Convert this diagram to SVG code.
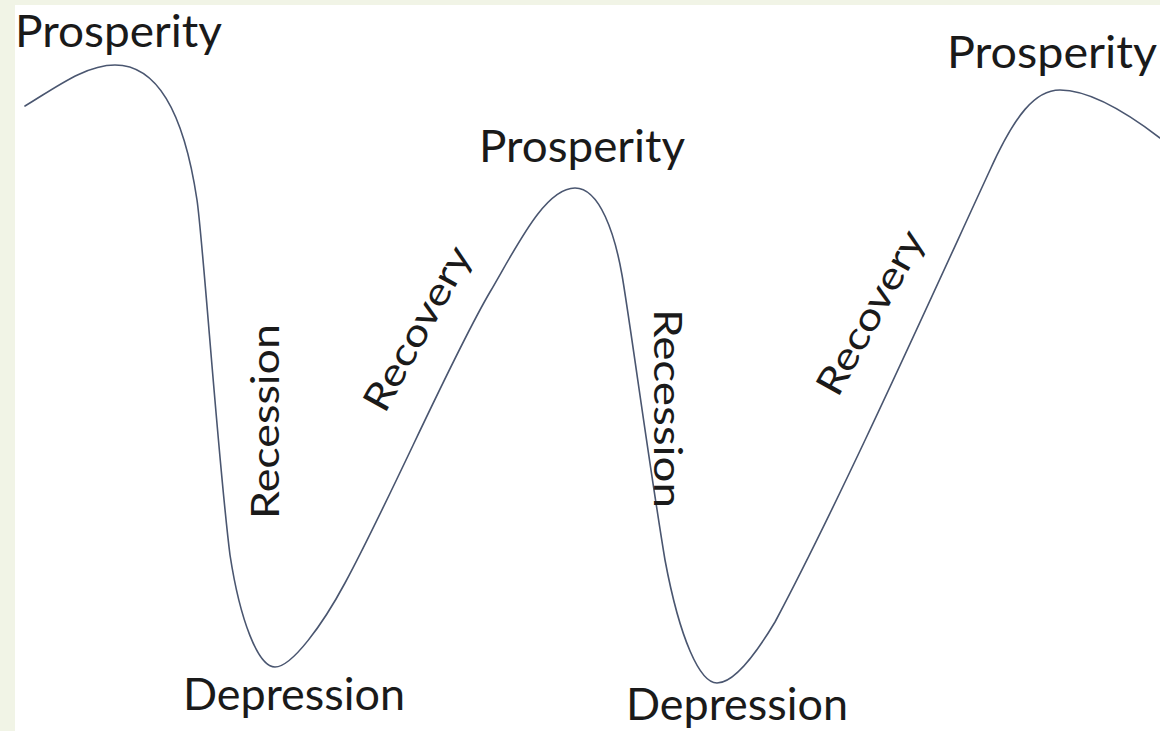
<svg xmlns="http://www.w3.org/2000/svg" width="1160" height="731" viewBox="0 0 1160 731">
  <style>
    .lbl { font-family: "Lato", "Open Sans", sans-serif; fill: #1a1a1a; }
    .h { font-size: 44px; }
    .v { font-size: 38px; }
    .curve { fill: none; stroke: #4a5670; stroke-width: 1.6; stroke-linecap: round; stroke-linejoin: round; }
  </style>
  <rect x="0" y="0" width="1160" height="731" fill="#f1f4e6"/>
  <rect x="15" y="5" width="1145" height="726" fill="#ffffff"/>

  <g id="connectors">
    <path class="curve" d="M 25,106 C 55,88 85,65 115,65 C 160,65 185,120 197,200 C 203,240 218,460 230,555 C 240,620 258,667 275,667 C 292,667 323,624 345,583 C 390,500 450,360 490,292 C 517,246 545,188 575,188 C 600,188 615,235 622,275 C 629,315 650,470 665,560 C 680,640 700,683 717,683 C 735,683 757,652 775,622 C 840,500 930,300 990,170 C 1015,115 1035,90 1060,90 C 1090,90 1130,115 1160,138"/>
  </g>

  <g id="prosperity1">
    <text class="lbl h" x="15" y="47" textLength="207" lengthAdjust="spacingAndGlyphs">Prosperity</text>
  </g>
  <g id="prosperity2">
    <text class="lbl h" x="479" y="162" textLength="206" lengthAdjust="spacingAndGlyphs">Prosperity</text>
  </g>
  <g id="prosperity3">
    <text class="lbl h" x="947" y="68" textLength="210" lengthAdjust="spacingAndGlyphs">Prosperity</text>
  </g>
  <g id="depression1">
    <text class="lbl h" x="183" y="710" textLength="222" lengthAdjust="spacingAndGlyphs">Depression</text>
  </g>
  <g id="depression2">
    <text class="lbl h" x="626" y="720" textLength="222" lengthAdjust="spacingAndGlyphs">Depression</text>
  </g>
  <g id="recession1" transform="translate(279,519) rotate(-90)">
    <text class="lbl v" x="0" y="0" textLength="195" lengthAdjust="spacingAndGlyphs">Recession</text>
  </g>
  <g id="recession2" transform="translate(654,309) rotate(90)">
    <text class="lbl v" x="0" y="0" textLength="199" lengthAdjust="spacingAndGlyphs">Recession</text>
  </g>
  <g id="recovery1" transform="translate(420,330) rotate(-61)">
    <text class="lbl v" x="0" y="10" text-anchor="middle" textLength="182" lengthAdjust="spacingAndGlyphs">Recovery</text>
  </g>
  <g id="recovery2" transform="translate(873,314) rotate(-61)">
    <text class="lbl v" x="0" y="10" text-anchor="middle" textLength="182" lengthAdjust="spacingAndGlyphs">Recovery</text>
  </g>
</svg>
